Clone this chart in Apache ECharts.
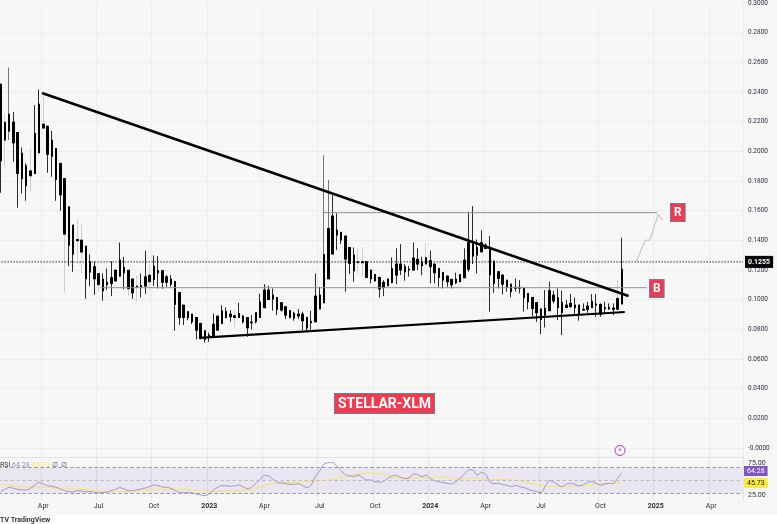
<!DOCTYPE html>
<html>
<head>
<meta charset="utf-8">
<title>STELLAR-XLM</title>
<script src="https://cdn.jsdelivr.net/npm/echarts@6/dist/echarts.min.js"></script>
<style>
  html, body { margin: 0; padding: 0; background: #f7f7f7; }
  #chart { width: 777px; height: 524px; }
</style>
</head>
<body>
<div id="chart"></div>
<script>
// weekly candles, from Jan 24 2022, plus empty room on the right
const weeks = Array.from({ length: 175 }, (_, i) =>
  new Date(Date.UTC(2022, 0, 24 + 7 * i)).toISOString().slice(0, 10));

const tickWeeks = [10, 23, 36, 49, 62, 75, 88, 101, 114, 127, 141, 154, 167];
const tickLabels = ['Apr', 'Jul', 'Oct', '2023', 'Apr', 'Jul', 'Oct', '2024', 'Apr', 'Jul', 'Oct', '2025', 'Apr'];

const bodyTops = [
  .2453, .2197, .2251, .2197, .2127, .1988, .1903, .1869, .2121, .2318,
  .2184, .2170, .2076, .2020, .1919, .1817, .1626, .1503, .1406, .1402,
  .1361, .1256, .1222, .1177, .1139, .1118, .1148, .1199, .1267, .1217,
  .1199, .1139, .1092, .1096, .1154, .1166, .1226, .1195, .1195, .1154,
  .1139, .1123, .1047, .0963, .0919, .0903, .0880, .0840, .0790, .0761,
  .0835, .0889, .0925, .0919, .0903, .0892, .0907, .0889, .0880, .0849,
  .0912, .0985, .1065, .1065, .1031, .1015, .0979, .0952, .0926, .0908,
  .0903, .0903, .0881, .0854, .1024, .1031, .1305, .1481, .1564, .1469,
  .1454, .1429, .1352, .1301, .1256, .1256, .1256, .1200, .1170, .1150,
  .1117, .1139, .1209, .1240, .1240, .1222, .1206, .1281, .1272, .1256,
  .1285, .1263, .1240, .1211, .1184, .1159, .1137, .1139, .1170, .1267,
  .1384, .1391, .1352, .1384, .1368, .1352, .1260, .1188, .1166, .1132,
  .1105, .1083, .1083, .1076, .1042, .1015, .0980, .0937, .0941, .1060,
  .1031, .1013, .0982, .0964, .0975, .0964, .0964, .0935, .0957, .0989,
  .0971, .0968, .0946, .0948, .0944, .1009, .1206
];
const bodyBottoms = [
  .1936, .2076, .2136, .2058, .1851, .1817, .1768, .1835, .1851, .1990,
  .2157, .1981, .1968, .1811, .1707, .1442, .1368, .1307, .1397, .1321,
  .1141, .1186, .1141, .1101, .1060, .1101, .1110, .1127, .1159, .1181,
  .1074, .1047, .1085, .1087, .1092, .1121, .1136, .1181, .1118, .1118,
  .1105, .0968, .0880, .0880, .0880, .0851, .0795, .0739, .0732, .0750,
  .0754, .0795, .0840, .0880, .0885, .0880, .0880, .0851, .0811, .0844,
  .0851, .0880, .0946, .1002, .1004, .0935, .0930, .0896, .0881, .0876,
  .0890, .0858, .0809, .0845, .0851, .0937, .0979, .1141, .1308, .1436,
  .1402, .1274, .1245, .1195, .1249, .1249, .1150, .1141, .1128, .1072,
  .1083, .1094, .1117, .1166, .1200, .1188, .1200, .1200, .1240, .1229,
  .1240, .1222, .1182, .1150, .1132, .1121, .1101, .1114, .1121, .1148,
  .1206, .1294, .1301, .1323, .1346, .1168, .1110, .1143, .1105, .1083,
  .1054, .1078, .1078, .1013, .0986, .0941, .0912, .0867, .0896, .0926,
  .0991, .0948, .0914, .0948, .0953, .0946, .0901, .0930, .0935, .0946,
  .0964, .0903, .0939, .0939, .0935, .0935, .0971
];
const wickHighs = [
  .2453, .2251, .2566, .2267, .2127, .2026, .1919, .2020, .2312, .2417,
  .2390, .2170, .2139, .2020, .1919, .1817, .1626, .1503, .1541, .1509,
  .1361, .1307, .1256, .1177, .1177, .1211, .1260, .1199, .1386, .1289,
  .1199, .1139, .1166, .1177, .1330, .1240, .1298, .1294, .1195, .1166,
  .1166, .1123, .1047, .0963, .0919, .0903, .0880, .0840, .0790, .0777,
  .0907, .0889, .0963, .0948, .0930, .0930, .0979, .0896, .0880, .0896,
  .0912, .1040, .1105, .1094, .1076, .1015, .0979, .0957, .0930, .0919,
  .0937, .0919, .0881, .0926, .1177, .1087, .1975, .1806, .1705, .1582,
  .1454, .1429, .1352, .1352, .1346, .1352, .1256, .1200, .1170, .1150,
  .1132, .1139, .1285, .1346, .1375, .1240, .1227, .1386, .1346, .1290,
  .1380, .1330, .1240, .1211, .1184, .1159, .1137, .1182, .1170, .1346,
  .1593, .1631, .1406, .1469, .1380, .1429, .1260, .1188, .1166, .1132,
  .1105, .1143, .1132, .1083, .1042, .1015, .0980, .0941, .1065, .1121,
  .1060, .1076, .1060, .0997, .1038, .1015, .0964, .0975, .0986, .1038,
  .1038, .0975, .0986, .0975, .0975, .1132, .1418
];
const wickLows = [
  .1721, .1891, .2076, .1930, .1620, .1716, .1667, .1734, .1851, .1990,
  .2157, .1856, .1829, .1667, .1599, .1047, .1226, .1188, .1267, .1177,
  .1006, .1092, .1033, .1053, .0993, .1065, .1024, .1121, .1159, .1069,
  .1024, .1006, .0986, .1015, .1038, .1076, .1092, .1076, .1074, .1087,
  .1087, .0790, .0831, .0829, .0862, .0835, .0732, .0732, .0710, .0716,
  .0750, .0790, .0840, .0874, .0851, .0817, .0880, .0840, .0750, .0799,
  .0840, .0880, .0946, .1002, .0926, .0896, .0919, .0869, .0874, .0858,
  .0869, .0795, .0784, .0784, .0851, .0937, .0979, .1141, .1308, .1334,
  .1375, .1054, .1173, .1121, .1177, .1155, .1150, .1110, .1121, .1015,
  .1024, .1094, .1110, .1105, .1166, .1128, .1155, .1200, .1200, .1166,
  .1240, .1110, .1110, .1087, .1076, .1087, .1076, .1105, .1121, .1148,
  .1188, .1240, .1177, .1323, .1346, .0919, .1047, .1076, .1036, .1054,
  .1015, .1054, .1042, .0919, .0935, .0890, .0851, .0768, .0813, .0926,
  .0975, .0863, .0762, .0948, .0948, .0903, .0858, .0930, .0912, .0946,
  .0885, .0885, .0903, .0930, .0896, .0935, .0971
];

// candles whose wicks are drawn faint or mid grey in the picture
const faintWicks = [1, 7, 10, 15, 18, 19, 23, 30, 32, 35, 55, 84, 85, 100, 145];
const greyWicks = [2, 76, 77];

const lastPrice = 0.1255;

// drawing tools, given as [week, price]
const priceLine = [[-0.5, lastPrice], [174.5, lastPrice]];
const upperTrend = [[9.7, .2394], [147.6, .1025]];
const lowerTrend = [[46.7, .0742], [146.7, .0917]];
const levelR = [[75.7, .1587], [154.3, .1587]];
const levelB = [[23.4, .1081], [151.8, .1081]];
const arrowPath = [[149.4, .1255], [151.5, .1401], [152.6, .1401], [154.6, .1577], [155.5, .1537]];

const rsiValues = [
  28.2, 32.7, 36.5, 34.6, 32.7, 31.4, 31.4, 34.6, 41, 46.2,
  42.9, 39.7, 39.1, 36.5, 33.3, 30.1, 28.2, 27.6, 30.1, 29.5,
  27.6, 28.2, 26.9, 26.3, 26.3, 27.6, 30.1, 32.7, 35.9, 33.3,
  30.1, 30.1, 31.4, 33.3, 35.3, 37.8, 41, 39.7, 37.2, 36.5,
  34.6, 30.1, 26.9, 26.3, 26.3, 25.6, 23.1, 21.8, 20.5, 23.7,
  31.4, 36.5, 39.7, 39.7, 38.5, 39.1, 41, 37.2, 34, 36.5,
  44.2, 51.9, 59.6, 58.3, 51.9, 46.2, 44.9, 43.6, 42.3, 42.3,
  43.6, 39.7, 35.9, 41, 58.3, 68.6, 81.4, 84, 84, 77.6,
  68.6, 60.9, 58.3, 57.1, 60.3, 55.8, 50.6, 50.6, 47.4, 46.2,
  48.1, 53.8, 58.3, 59.6, 55.8, 53.2, 54.5, 62.2, 60.9, 57.1,
  60.3, 53.2, 49.4, 47.4, 45.5, 44.2, 42.9, 47.4, 53.8, 61.5,
  69.9, 69.9, 59.6, 65.4, 61.5, 46.2, 43.6, 44.2, 41.7, 40.4,
  37.8, 40.4, 37.8, 35.9, 32.7, 30.1, 28.2, 26.3, 37.8, 49.4,
  46.8, 41, 37.8, 42.9, 44.2, 42.3, 39.1, 41.7, 46.2, 47.4,
  44.2, 40.4, 42.9, 44.2, 43.6, 53.8, 64.28
];
const rsiMa = [
  [0, 42.9], [4, 37.8], [8, 36.5], [12, 35.9], [16, 34], [20, 32.7], [23.4, 28.2], [27, 28.2],
  [31, 29.5], [35, 31.4], [39, 32.7], [43, 32.7], [47, 30.1], [51, 28.8], [55, 30.1], [59, 32.7],
  [63, 42.3], [66, 45.5], [70, 46.2], [74, 48.7], [78, 51.9], [82, 59], [86, 64.7], [90, 62.2],
  [92, 55.8], [96, 53.8], [104, 56.8], [107, 51.9], [111, 53.8], [115, 51.9], [121, 50.6], [123, 47.4],
  [126, 42.3], [129, 37.8], [135, 38.5], [140, 42.3], [146, 45.73]
];

const RED = '#ef3a4f';
const BOX_BORDER = '#6f7f96';
const PURPLE = '#9a83cf';
const YELLOW = '#f7e65a';
const AXIS_TEXT = '#2a2e39';
const FONT = 'Roboto, "Liberation Sans", sans-serif';

const showWeek = (index) => tickWeeks.includes(index);

const wickColor = (i) => {
  if (faintWicks.includes(i)) return '#cfcfcf';
  if (greyWicks.includes(i)) return '#777777';
  return '#2b2b2b';
};

const wickData = bodyTops.map((top, i) => ({
  value: [bodyBottoms[i], top, wickLows[i], wickHighs[i]],
  itemStyle: { color: wickColor(i), color0: wickColor(i), borderColor: wickColor(i), borderColor0: wickColor(i) }
}));
const bodyData = bodyTops.map((top, i) => [bodyBottoms[i], top, bodyBottoms[i], top]);

const drawing = (name, data, color, width) => ({
  name,
  type: 'line',
  xAxisIndex: 1,
  yAxisIndex: 0,
  data,
  showSymbol: false,
  silent: true,
  z: 5,
  lineStyle: { color, width }
});

const tag = (text, x, y, bg, color) => ({
  type: 'text',
  left: x,
  top: y,
  z: 20,
  style: {
    text, fill: color, backgroundColor: bg, font: '7px ' + FONT,
    padding: [2, 3, 1, 3]
  }
});

const box = (text, x, y, fontSize, padding) => ({
  type: 'text',
  left: x,
  top: y,
  z: 20,
  style: {
    text, fill: '#fff', backgroundColor: RED, borderColor: BOX_BORDER, borderWidth: 1,
    font: 'bold ' + fontSize + 'px ' + FONT, padding
  }
});

const chart = echarts.init(document.getElementById('chart'));

chart.setOption({
  animation: false,
  backgroundColor: '#f7f7f7',
  grid: [
    { left: -1.4, width: 744.4, top: 3.1, height: 474.56, outerBoundsMode: 'none' },
    { left: -1.4, width: 744.4, top: 454.3, height: 46.8, outerBoundsMode: 'none' }
  ],
  xAxis: [
    {
      type: 'category', gridIndex: 0, data: weeks,
      axisLine: { show: false }, axisTick: { show: false }, axisLabel: { show: false },
      splitLine: { show: true, interval: showWeek, lineStyle: { color: '#ededed', width: 1 } }
    },
    { type: 'value', gridIndex: 0, min: -0.5, max: 174.5, show: false },
    {
      type: 'category', gridIndex: 1, data: weeks,
      axisLine: { show: false }, axisTick: { show: false },
      axisLabel: {
        interval: showWeek,
        margin: 2,
        color: AXIS_TEXT,
        fontSize: 7,
        fontFamily: FONT,
        formatter: (value, index) => {
          const label = tickLabels[tickWeeks.indexOf(index)];
          return label.length === 4 ? '{year|' + label + '}' : label;
        },
        rich: { year: { fontWeight: 'bold', fontSize: 7, color: AXIS_TEXT, fontFamily: FONT } }
      },
      splitLine: { show: true, interval: showWeek, lineStyle: { color: '#e6e6e6', width: 1 } }
    },
    { type: 'value', gridIndex: 1, min: -0.5, max: 174.5, show: false }
  ],
  yAxis: [
    {
      type: 'value', gridIndex: 0, position: 'right',
      min: -0.02, max: 0.3, interval: 0.02,
      axisLine: { show: false }, axisTick: { show: false },
      axisLabel: {
        margin: 5, color: AXIS_TEXT, fontSize: 6.5, fontFamily: FONT,
        showMinLabel: false,
        formatter: (value) => (Math.abs(value) < 1e-9 ? '-0.0000' : value.toFixed(4))
      },
      splitLine: { lineStyle: { color: '#ededed', width: 1 }, showMinLine: false, showMaxLine: false }
    },
    { type: 'value', gridIndex: 1, min: 10, max: 100, show: false }
  ],
  series: [
    {
      name: 'Wicks',
      type: 'candlestick',
      xAxisIndex: 0,
      yAxisIndex: 0,
      barWidth: 2,
      silent: true,
      data: wickData,
      z: 2,
      itemStyle: { borderWidth: 1 }
    },
    {
      name: 'XLM',
      type: 'candlestick',
      xAxisIndex: 0,
      yAxisIndex: 0,
      barWidth: 2,
      silent: true,
      data: bodyData,
      z: 3,
      itemStyle: { color: '#000', color0: '#000', borderColor: '#000', borderColor0: '#000', borderWidth: 1 }
    },
    {
      name: 'Last price',
      type: 'line',
      xAxisIndex: 1,
      yAxisIndex: 0,
      data: priceLine,
      showSymbol: false,
      silent: true,
      z: 4,
      lineStyle: { color: '#000', type: [1, 2], width: 1.2 },
      endLabel: {
        show: true, formatter: lastPrice.toFixed(4),
        color: '#fff', backgroundColor: '#000', fontSize: 7, fontWeight: 'bold',
        fontFamily: FONT, padding: [3, 3, 2, 3], distance: 2
      }
    },
    drawing('Level R', levelR, '#8f8f8f', 1),
    drawing('Level B', levelB, '#8f8f8f', 1),
    drawing('Upper trend', upperTrend, '#000', 2.5),
    drawing('Lower trend', lowerTrend, '#000', 2.2),
    drawing('Arrow', arrowPath, '#bdbdbd', 1),
    {
      name: 'RSI',
      type: 'line',
      xAxisIndex: 2,
      yAxisIndex: 1,
      data: rsiValues,
      showSymbol: false,
      silent: true,
      smooth: 0.2,
      z: 4,
      lineStyle: { color: PURPLE, width: 0.9 },
      markArea: {
        silent: true,
        itemStyle: { color: 'rgba(126, 87, 194, 0.1)' },
        data: [[{ yAxis: 25 }, { yAxis: 75 }]]
      },
      markLine: {
        silent: true,
        symbol: 'none',
        animation: false,
        label: { show: false },
        lineStyle: { color: '#8a8a90', type: [3, 3], width: 1 },
        data: [{ yAxis: 75 }, { yAxis: 50, lineStyle: { color: '#b9b9c0' } }, { yAxis: 25 }]
      }
    },
    {
      name: 'RSI MA',
      type: 'line',
      xAxisIndex: 3,
      yAxisIndex: 1,
      data: rsiMa,
      showSymbol: false,
      silent: true,
      z: 3,
      lineStyle: { color: YELLOW, width: 1 }
    }
  ],
  graphic: [
    { type: 'line', z: 1, shape: { x1: 0, y1: 457.5, x2: 743, y2: 457.5 }, style: { stroke: '#e2e2e2', lineWidth: 1 } },
    { type: 'rect', z: 0, shape: { x: 0, y: 515, width: 777, height: 9 }, style: { fill: '#ffffff' } },
    box('R', 670, 203, 12, [3, 3, 2, 3]),
    box('B', 649, 279, 12, [3, 3, 2, 3]),
    box('STELLAR-XLM', 334, 393, 14, [3, 3, 2, 3]),
    { type: 'circle', z: 20, shape: { cx: 620, cy: 450.5, r: 5 }, style: { fill: '#f7f7f7', stroke: '#a23fc2', lineWidth: 1 } },
    { type: 'text', z: 21, left: 617.5, top: 446.5, style: { text: '⚡', fill: '#a23fc2', font: '7px "DejaVu Sans"' } },
    { type: 'text', z: 20, left: 0, top: 462, style: { text: 'RSI', fill: '#333', font: '7px ' + FONT } },
    { type: 'text', z: 20, left: 12, top: 462, style: { text: '64.28', fill: PURPLE, font: '7px ' + FONT } },
    { type: 'text', z: 20, left: 32, top: 462, style: { text: '45.73', fill: YELLOW, font: '7px ' + FONT } },
    { type: 'text', z: 20, left: 52, top: 462, style: { text: '∅', fill: '#555', font: '7px "DejaVu Sans"' } },
    { type: 'text', z: 20, left: 61, top: 462, style: { text: '∅', fill: '#555', font: '7px "DejaVu Sans"' } },
    { type: 'text', z: 20, left: 748, top: 460, style: { text: '75.00', fill: AXIS_TEXT, font: '7px ' + FONT } },
    { type: 'text', z: 20, left: 748, top: 492, style: { text: '25.00', fill: AXIS_TEXT, font: '7px ' + FONT } },
    tag('64.28', 744, 466, '#7e57c2', '#fff'),
    tag('45.73', 744, 478, '#ffeb3b', '#222'),
    { type: 'text', z: 20, left: 0, top: 517, style: { text: 'TV TradingView', fill: '#333', font: 'bold 7px ' + FONT } }
  ]
});
</script>
</body>
</html>
